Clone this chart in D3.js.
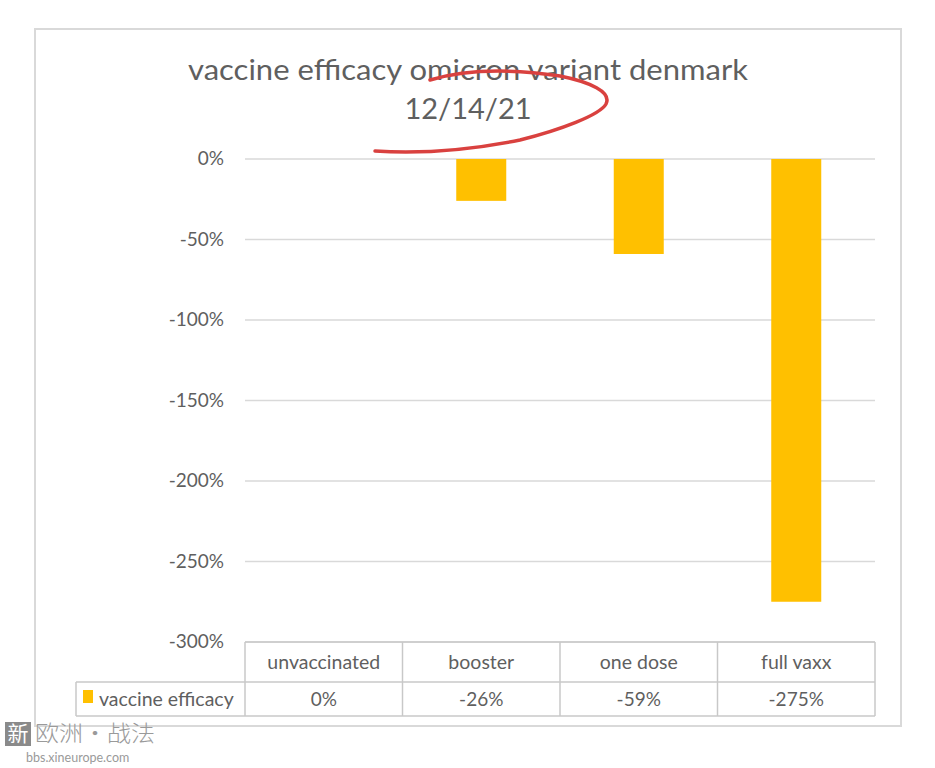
<!DOCTYPE html>
<html><head><meta charset="utf-8">
<script src="https://cdn.jsdelivr.net/npm/d3@7"></script>
<style>body{margin:0;background:#fff}svg{display:block}text{font-family:Lato,"Open Sans",sans-serif}</style>
</head><body>
<svg id="c" width="935" height="768"></svg>
<script>
const categories = ["unvaccinated","booster","one dose","full vaxx"];
const efficacy = [0, -26, -59, -275];
const valueLabels = ["0%","-26%","-59%","-275%"];
const yTicks = [0,-50,-100,-150,-200,-250,-300];
const seriesName = "vaccine efficacy";
const title1 = "vaccine efficacy omicron variant denmark";
const title2 = "12/14/21";

(function(){
const svg = d3.select("#c");
const grey = "#5f5f5f";
svg.append("rect").attr("width",935).attr("height",768).attr("fill","#fff");
svg.append("rect").attr("x",35).attr("y",29).attr("width",866).attr("height",697)
  .attr("fill","none").attr("stroke","#d9d9d9").attr("stroke-width",2);

const pL=245, pR=875, pT=159, pB=642;
const x = d3.scaleBand().domain(categories).range([pL,pR]).paddingInner(0).paddingOuter(0);
const y = d3.scaleLinear().domain([-300,0]).range([pB,pT]);

// gridlines
svg.append("g").selectAll("line").data(yTicks).join("line")
  .attr("x1",pL).attr("x2",pR).attr("y1",d=>y(d)).attr("y2",d=>y(d))
  .attr("stroke","#d9d9d9").attr("stroke-width",1.5);

// y axis labels
const yAxis = d3.axisLeft(y).tickValues(yTicks).tickFormat(d=>d+"%").tickSize(0).tickPadding(0);
const ga = svg.append("g").attr("transform","translate(224,0)").call(yAxis);
ga.select(".domain").remove();
ga.selectAll("text").attr("fill",grey).attr("dy","0.3em").style("font-size","19px").style("font-family","Lato,'Open Sans',sans-serif");

// bars
const bw = 50;
svg.append("g").selectAll("rect").data(efficacy).join("rect")
  .attr("x",(d,i)=>x(categories[i])+x.bandwidth()/2-bw/2)
  .attr("width",bw)
  .attr("y",d=>y(Math.max(0,d)))
  .attr("height",d=>Math.abs(y(d)-y(0)))
  .attr("fill","#FFC000");

// data table
const tb = svg.append("g");
const r1t = 642, r1b = 682, r2b = 716, tleft = 76;
const tc = "#c8c8c8";
const ln = (x1,y1,x2,y2)=>tb.append("line").attr("x1",x1).attr("y1",y1).attr("x2",x2).attr("y2",y2).attr("stroke",tc).attr("stroke-width",1.5);
ln(pL,r1t,pL,r2b);
categories.forEach((c,i)=>{ ln(x(c)+x.bandwidth(), r1t, x(c)+x.bandwidth(), r2b); });
ln(pL,r1t,pR,r1t);
ln(tleft,r1b,pR,r1b);
ln(tleft,r2b,pR,r2b);
ln(tleft,r1b,tleft,r2b);
tb.selectAll("text.cat").data(categories).join("text").attr("class","cat")
  .attr("x",d=>x(d)+x.bandwidth()/2).attr("y",669).attr("text-anchor","middle")
  .attr("fill",grey).style("font-size","19.5px").text(d=>d);
tb.selectAll("text.val").data(valueLabels).join("text").attr("class","val")
  .attr("x",(d,i)=>x(categories[i])+x.bandwidth()/2).attr("y",706).attr("text-anchor","middle")
  .attr("fill",grey).style("font-size","19px").text(d=>d);
tb.append("rect").attr("x",83).attr("y",690).attr("width",10).attr("height",13).attr("fill","#FFC000");
tb.append("text").attr("x",99).attr("y",706).attr("fill",grey).style("font-size","19.5px").text(seriesName);

// title
svg.append("text").attr("x",468).attr("y",80).attr("text-anchor","middle").attr("fill",grey)
  .style("font-size","28px").attr("textLength",560).attr("lengthAdjust","spacingAndGlyphs").text(title1);
svg.append("text").attr("x",468).attr("y",119).attr("text-anchor","middle").attr("fill",grey)
  .style("font-size","29px").text(title2);

// red hand-drawn annotation
svg.append("path")
  .attr("d","M375,151 C420,154 470,150 520,140 C560,130 600,115 606,104 C612,92 590,82 560,76 C520,70 470,68 430,80")
  .attr("fill","none").attr("stroke","#d9413f").attr("stroke-width",3.5).attr("stroke-linecap","round");

// watermark
const wm = svg.append("g");
wm.append("rect").attr("x",5).attr("y",722).attr("width",26).attr("height",24).attr("fill","#8a8a8a");
wm.append("text").attr("x",18).attr("y",741).attr("text-anchor","middle").attr("fill","#fff")
  .style("font-family","'Noto Sans CJK SC'").style("font-size","21px").text("新");
wm.append("text").attr("x",35).attr("y",741).attr("fill","#9a9a9a")
  .attr("textLength",120).attr("lengthAdjust","spacingAndGlyphs")
  .style("font-family","'Noto Sans CJK SC'").style("font-size","22px").style("font-weight","300").text("欧洲·战法");
wm.append("text").attr("x",26).attr("y",762).attr("fill","#9a9a9a").style("font-size","12.5px").text("bbs.xineurope.com");
})();
</script>
</body></html>
